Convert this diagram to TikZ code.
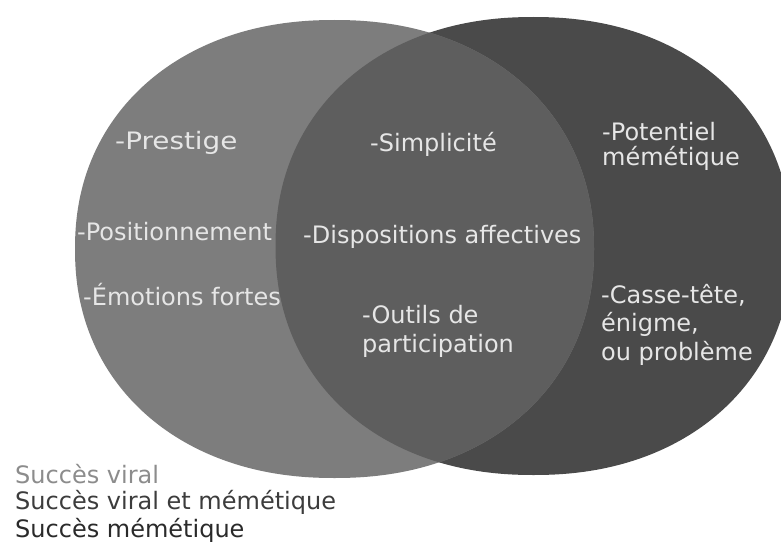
\documentclass[tikz,border=0pt]{standalone}
\usepackage{fontspec}
\setmainfont{DejaVu Sans}
\usepackage{graphicx}
\definecolor{viral}{HTML}{7D7D7D}
\definecolor{both}{HTML}{5E5E5E}
\definecolor{meme}{HTML}{4A4A4A}
\definecolor{txt}{HTML}{E6E6E6}
\definecolor{legv}{HTML}{8C8C8C}
\definecolor{legb}{HTML}{3C3C3C}
\definecolor{legm}{HTML}{2A2A2A}
% superellipse path: centre x, centre y, half width, half height
\newcommand\myblob[4]{plot[domain=0:360, samples=361, variable=\t]
  ({#1+#3*cos(\t)*pow(max(abs(cos(\t)),0.001),-0.07)},
   {#2+#4*sin(\t)*pow(max(abs(sin(\t)),0.001),-0.07)}) -- cycle}
\begin{document}
\begin{tikzpicture}[x=1pt,y=-1pt,
  lbl/.style={text=txt, font=\fontsize{24}{27}\selectfont, inner sep=0pt, anchor=base west, align=left},
  leg/.style={font=\fontsize{24}{27}\selectfont, inner sep=0pt, anchor=base west}]
\useasboundingbox (0,0) rectangle (781,543);
\fill[white] (0,0) rectangle (781,543);
% circles
\fill[meme] \myblob{533.5}{246}{258}{229};
\fill[viral] \myblob{334.5}{249}{259.5}{229};
\begin{scope}
  \clip \myblob{533.5}{246}{258}{229};
  \fill[both] \myblob{334.5}{249}{259.5}{229};
\end{scope}
% labels
\node[lbl] (prestige) at (115,149) {\scalebox{1.16}[1]{-Prestige}};
\node[lbl] (posit) at (77,240) {-Positionnement};
\node[lbl] (emot) at (83,305) {-Émotions fortes};
\node[lbl] (simpl) at (370,151) {-Simplicité};
\node[lbl] (dispo) at (303,243) {-Dispositions affectives};
\node[lbl, font=\fontsize{24}{29}\selectfont] (outils) at (362,352) {-Outils de\\participation};
\node[lbl, font=\fontsize{24}{25}\selectfont] (potent) at (602,165) {-Potentiel\\mémétique};
\node[lbl, font=\fontsize{24}{28.5}\selectfont] (casse) at (601,360) {-Casse-tête,\\énigme,\\ou problème};
% legend
\node[leg, text=legv] (lv) at (15,483) {Succès viral};
\node[leg, text=legb] (lb) at (15,509) {Succès viral et mémétique};
\node[leg, text=legm] (lm) at (15,537) {Succès mémétique};
\end{tikzpicture}
\end{document}
